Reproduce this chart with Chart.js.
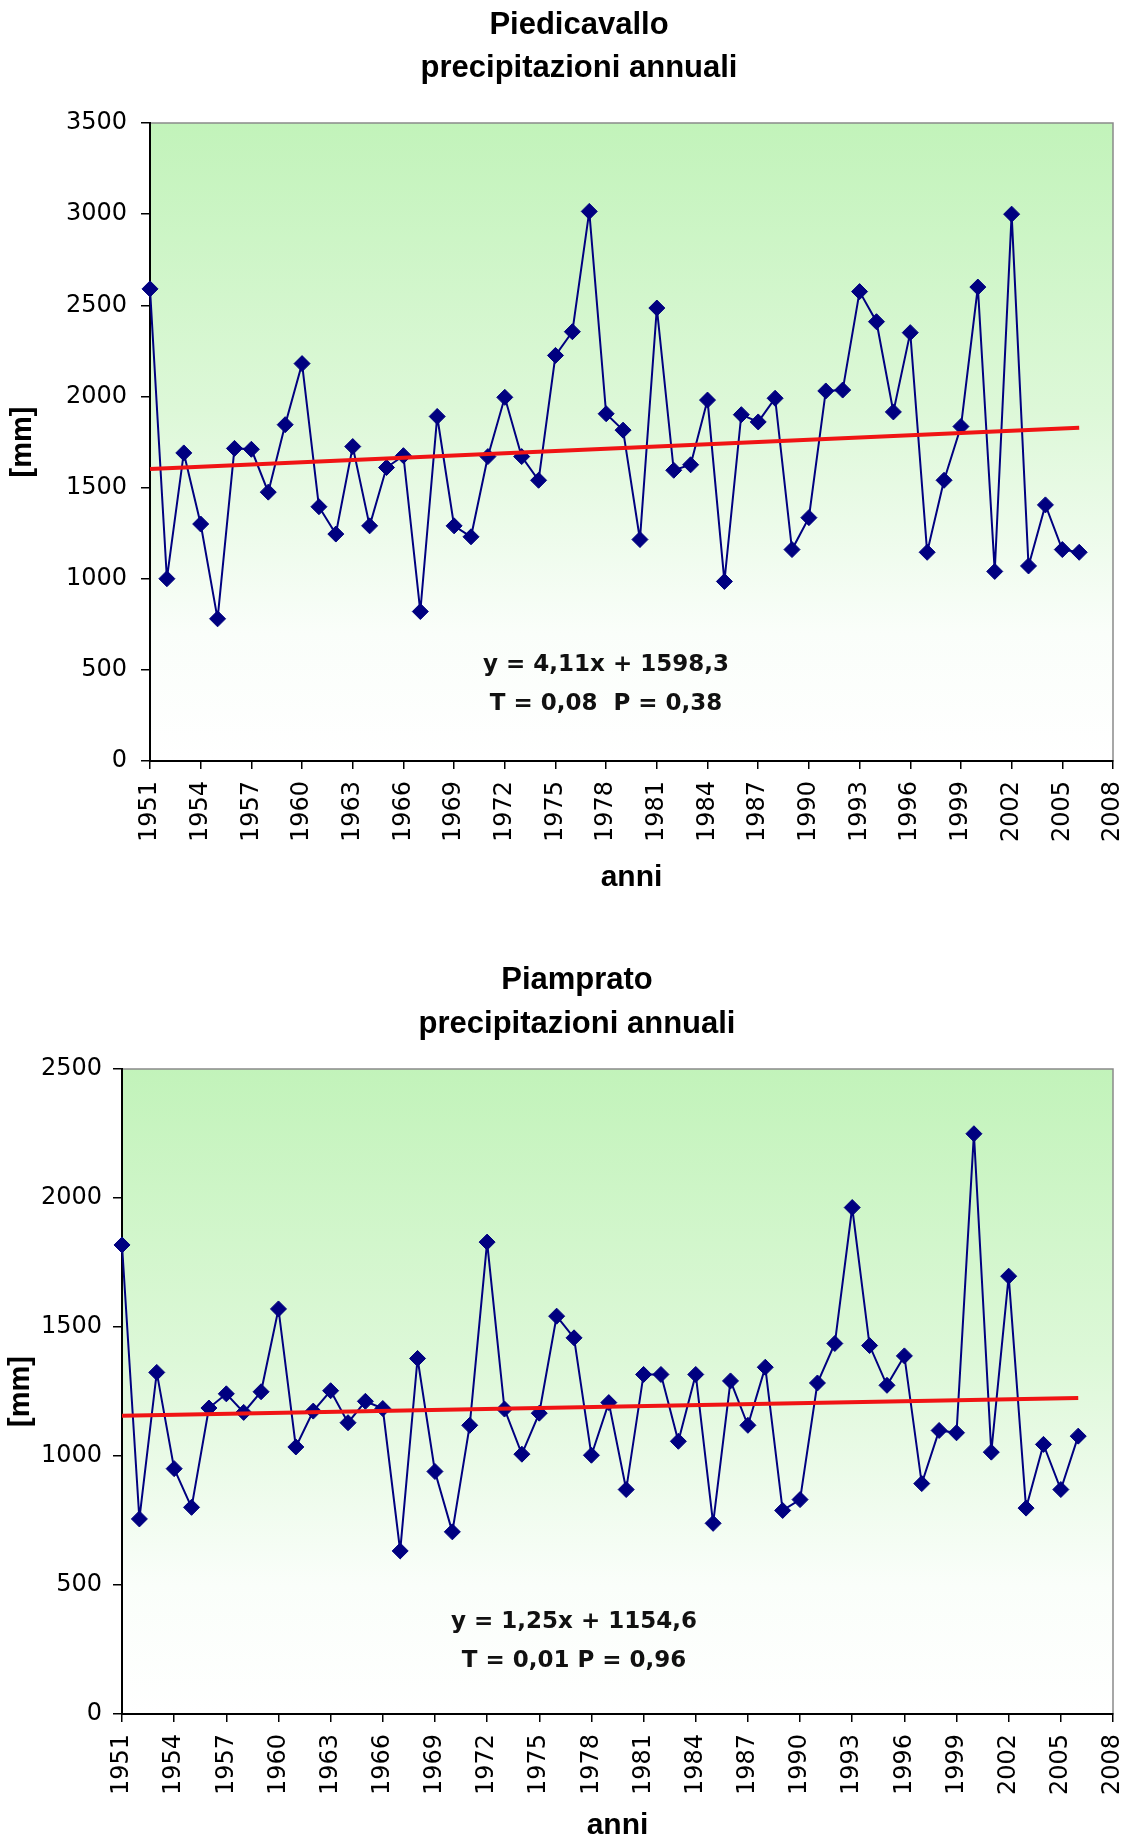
<!DOCTYPE html>
<html>
<head>
<meta charset="utf-8">
<script src="https://cdn.jsdelivr.net/npm/chart.js@4.4.0/dist/chart.umd.min.js"></script>
<style>
  html, body { margin: 0; padding: 0; background: #fff; }
  .box { position: absolute; left: 0; width: 1125px; }
  #box1 { top: 0; height: 920px; }
  #box2 { top: 920px; height: 922px; }
</style>
</head>
<body>
<div class="box" id="box1"><canvas id="chart1"></canvas></div>
<div class="box" id="box2"><canvas id="chart2"></canvas></div>
<script>
// data
const years = [
  1951, 1952, 1953, 1954, 1955, 1956, 1957, 1958, 1959, 1960,
  1961, 1962, 1963, 1964, 1965, 1966, 1967, 1968, 1969, 1970,
  1971, 1972, 1973, 1974, 1975, 1976, 1977, 1978, 1979, 1980,
  1981, 1982, 1983, 1984, 1985, 1986, 1987, 1988, 1989, 1990,
  1991, 1992, 1993, 1994, 1995, 1996, 1997, 1998, 1999, 2000,
  2001, 2002, 2003, 2004, 2005, 2006,
];
const piedicavallo = [
  2590, 1000, 1690, 1300, 780, 1715, 1710, 1475, 1845, 2180,
  1395, 1245, 1725, 1290, 1610, 1675, 820, 1890, 1290, 1230,
  1670, 1995, 1670, 1540, 2225, 2355, 3015, 1905, 1815, 1215,
  2485, 1595, 1625, 1980, 985, 1900, 1860, 1990, 1160, 1335,
  2030, 2035, 2575, 2410, 1915, 2350, 1145, 1540, 1835, 2600,
  1040, 3000, 1070, 1405, 1160, 1145,
];
const piamprato = [
  1818, 756, 1324, 951, 801, 1186, 1241, 1169, 1249, 1570,
  1035, 1174, 1253, 1129, 1212, 1184, 632, 1378, 940, 706,
  1119, 1829, 1182, 1007, 1166, 1542, 1458, 1003, 1207, 870,
  1316, 1316, 1057, 1316, 739, 1291, 1119, 1344, 789, 831,
  1283, 1436, 1963, 1428, 1274, 1388, 893, 1099, 1090, 2249,
  1015, 1697, 798, 1045, 870, 1077,
];
// trend lines (end points)
const trendYears = [1951, 2006];
const trendPiedicavallo = [1602, 1828];
const trendPiamprato = [1156, 1225];
// tick labels
const xTicks = [1951, 1954, 1957, 1960, 1963, 1966, 1969, 1972, 1975, 1978,
  1981, 1984, 1987, 1990, 1993, 1996, 1999, 2002, 2005, 2008];
const yTicks1 = [0, 500, 1000, 1500, 2000, 2500, 3000, 3500];
const yTicks2 = [0, 500, 1000, 1500, 2000, 2500];

Chart.defaults.font.family = "'DejaVu Sans', sans-serif";
Chart.defaults.color = "#000";

const toPoints = (xs, ys) => xs.map((x, i) => ({ x: x, y: ys[i] }));

// green gradient behind the plot
const plotBackground = {
  id: "plotBackground",
  beforeDraw(chart) {
    const { ctx, chartArea: a } = chart;
    const g = ctx.createLinearGradient(0, a.top, 0, a.bottom);
    g.addColorStop(0, "#c2f3ba");
    g.addColorStop(0.45, "#ddf8d8");
    g.addColorStop(0.8, "#fafefa");
    g.addColorStop(1, "#ffffff");
    ctx.save();
    ctx.fillStyle = g;
    ctx.fillRect(a.left, a.top, a.width, a.height);
    ctx.strokeStyle = "#8a8a8a";
    ctx.lineWidth = 1.5;
    ctx.strokeRect(a.left, a.top, a.width, a.height);
    ctx.restore();
  },
};

// two-line heading and the equation text
const texts = {
  id: "texts",
  afterDraw(chart, args, opts) {
    const { ctx, chartArea: a } = chart;
    ctx.save();
    ctx.fillStyle = "#000";
    ctx.textAlign = "center";
    ctx.textBaseline = "middle";
    ctx.font = "bold 31px 'Liberation Sans'";
    opts.heading.forEach((t, i) => ctx.fillText(t, opts.headX, opts.headY[i]));
    ctx.fillStyle = "#111";
    ctx.font = "bold 23px 'DejaVu Sans'";
    opts.lines.forEach((t, i) => ctx.fillText(t, a.left + opts.dx, a.top + opts.dy[i]));
    ctx.restore();
  },
};

function makeChart(id, cfg) {
  return new Chart(document.getElementById(id), {
    type: "line",
    data: {
      datasets: [
        {
          label: "trend",
          data: toPoints(trendYears, cfg.trend),
          borderColor: "#f01414",
          borderWidth: 4,
          pointRadius: 0,
          clip: false,
        },
        {
          label: cfg.name,
          data: toPoints(years, cfg.values),
          borderColor: "#000080",
          borderWidth: 2,
          backgroundColor: "#000080",
          pointStyle: "rectRot",
          pointRadius: 8,
          pointBorderWidth: 1,
          pointBackgroundColor: "#000080",
          tension: 0,
          clip: false,
        },
      ],
    },
    options: {
      animation: false,
      responsive: true,
      maintainAspectRatio: false,
      events: [],
      layout: { padding: { top: cfg.top, right: 12, left: 0, bottom: 0 } },
      plugins: {
        legend: { display: false },
        tooltip: { enabled: false },
        title: { display: false },
        texts: cfg.texts,
      },
      scales: {
        x: {
          type: "linear",
          min: 1951,
          max: 2008,
          afterBuildTicks: (s) => { s.ticks = xTicks.map((v) => ({ value: v })); },
          afterFit: (s) => {
            s.height = cfg.xHeight;
            s.paddingLeft = 0;
            s.paddingRight = 0;
          },
          ticks: {
            autoSkip: false,
            maxRotation: 90,
            minRotation: 90,
            padding: 12,
            font: { size: 24 },
            callback: (v) => String(v),
          },
          grid: { drawOnChartArea: false, drawTicks: true, tickLength: 8, color: "#000", lineWidth: 1.5 },
          border: { color: "#000", width: 2 },
          title: {
            display: true,
            text: "anni",
            font: { family: "'Liberation Sans'", size: 30, weight: "bold", lineHeight: 1 },
            padding: { top: 0, bottom: cfg.xTitlePad },
          },
        },
        y: {
          min: 0,
          max: cfg.yMax,
          afterBuildTicks: (s) => { s.ticks = cfg.yTicks.map((v) => ({ value: v })); },
          afterFit: (s) => {
            s.width = cfg.yWidth;
            s.paddingTop = 0;
            s.paddingBottom = 0;
          },
          ticks: { padding: cfg.yTickPad, font: { size: 24 }, callback: (v) => String(v) },
          grid: { drawOnChartArea: false, drawTicks: true, tickLength: 9, color: "#000", lineWidth: 1.5 },
          border: { color: "#000", width: 2 },
          title: {
            display: true,
            text: "[mm]",
            font: { family: "'Liberation Sans'", size: 29, weight: "bold", lineHeight: 1.2 },
            padding: { top: cfg.yTitlePad, bottom: 0 },
          },
        },
      },
    },
    plugins: [plotBackground, texts],
  });
}

makeChart("chart1", {
  name: "Piedicavallo",
  values: piedicavallo,
  trend: trendPiedicavallo,
  top: 123,
  yMax: 3500,
  yTicks: yTicks1,
  yWidth: 150,
  yTickPad: 14,
  yTitlePad: 6,
  xHeight: 159,
  xTitlePad: 27,
  texts: {
    heading: ["Piedicavallo", "precipitazioni annuali"],
    headX: 579,
    headY: [25, 68],
    lines: ["y = 4,11x + 1598,3", "T = 0,08  P = 0,38"],
    dx: 456,
    dy: [542, 581],
  },
});

makeChart("chart2", {
  name: "Piamprato",
  values: piamprato,
  trend: trendPiamprato,
  top: 149,
  yMax: 2500,
  yTicks: yTicks2,
  yWidth: 122,
  yTitlePad: 4,
  yTickPad: 11,
  xHeight: 128,
  xTitlePad: 1,
  texts: {
    heading: ["Piamprato", "precipitazioni annuali"],
    headX: 577,
    headY: [60, 104],
    lines: ["y = 1,25x + 1154,6", "T = 0,01 P = 0,96"],
    dx: 452,
    dy: [553, 592],
  },
});
</script>
</body>
</html>
